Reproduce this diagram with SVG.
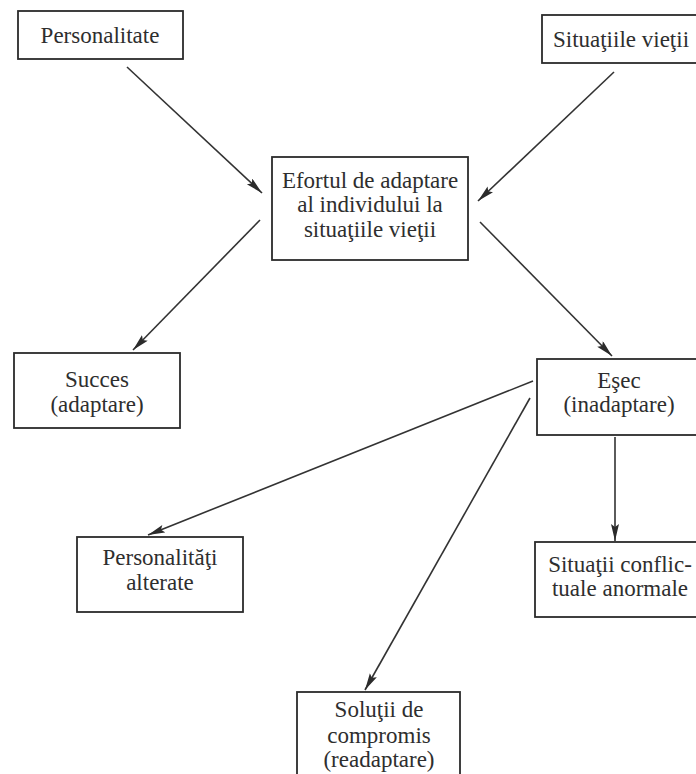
<svg xmlns="http://www.w3.org/2000/svg" width="696" height="774" viewBox="0 0 696 774">
<style>
.box{fill:#fff;stroke:#2b2b2b;stroke-width:1.8}
.t{font-family:'Liberation Serif',serif;font-size:23px;fill:#2e2e2e;text-anchor:middle}
.c line{stroke:#333;stroke-width:1.6;marker-end:url(#ah)}
</style>
<defs>
<marker id="ah" markerUnits="userSpaceOnUse" markerWidth="18" markerHeight="10" refX="17" refY="4" orient="auto">
<path d="M0,0 L17,4 L0,8 L3,4 Z" fill="#2b2b2b"/>
</marker>
</defs>
<rect width="696" height="774" fill="#fff"/>
<g class="c" id="connectors">
<line x1="127" y1="67" x2="262" y2="193"/>
<line x1="614" y1="72" x2="478" y2="201"/>
<line x1="260" y1="220" x2="133" y2="350"/>
<line x1="480" y1="222" x2="612" y2="356"/>
<line x1="533" y1="381" x2="148" y2="535"/>
<line x1="530" y1="398" x2="365" y2="690"/>
<line x1="615" y1="437" x2="615" y2="541"/>
</g>
<g id="personalitate">
<rect class="box" x="18" y="11" width="165" height="48"/>
<text class="t" font-family="Liberation Serif, serif" x="100" y="43">Personalitate</text>
</g>
<g id="situatiile">
<rect class="box" x="542" y="15" width="160" height="48"/>
<text class="t" font-family="Liberation Serif, serif" x="621" y="47">Situaţiile vieţii</text>
</g>
<g id="efortul" class="t" font-family="Liberation Serif, serif">
<rect class="box" x="272" y="157" width="196" height="103"/>
<text class="t" font-family="Liberation Serif, serif" x="370" y="188">Efortul de adaptare</text>
<text class="t" font-family="Liberation Serif, serif" x="370" y="212">al individului la</text>
<text class="t" font-family="Liberation Serif, serif" x="370" y="237">situaţiile vieţii</text>
</g>
<g id="succes">
<rect class="box" x="14" y="353" width="166" height="75"/>
<text class="t" font-family="Liberation Serif, serif" x="97" y="387">Succes</text>
<text class="t" font-family="Liberation Serif, serif" x="97" y="412">(adaptare)</text>
</g>
<g id="esec">
<rect class="box" x="537" y="359" width="162" height="76"/>
<text class="t" font-family="Liberation Serif, serif" x="619" y="388">Eşec</text>
<text class="t" font-family="Liberation Serif, serif" x="619" y="412">(inadaptare)</text>
</g>
<g id="personalitati">
<rect class="box" x="77" y="537" width="166" height="75"/>
<text class="t" font-family="Liberation Serif, serif" x="160" y="565">Personalităţi</text>
<text class="t" font-family="Liberation Serif, serif" x="160" y="590">alterate</text>
</g>
<g id="conflictuale">
<rect class="box" x="535" y="542" width="166" height="75"/>
<text class="t" font-family="Liberation Serif, serif" x="620" y="572">Situaţii conflic-</text>
<text class="t" font-family="Liberation Serif, serif" x="620" y="596">tuale anormale</text>
</g>
<g id="solutii">
<rect class="box" x="297" y="692" width="163" height="90"/>
<text class="t" font-family="Liberation Serif, serif" x="379" y="717">Soluţii de</text>
<text class="t" font-family="Liberation Serif, serif" x="379" y="743">compromis</text>
<text class="t" font-family="Liberation Serif, serif" x="379" y="767">(readaptare)</text>
</g>
</svg>
